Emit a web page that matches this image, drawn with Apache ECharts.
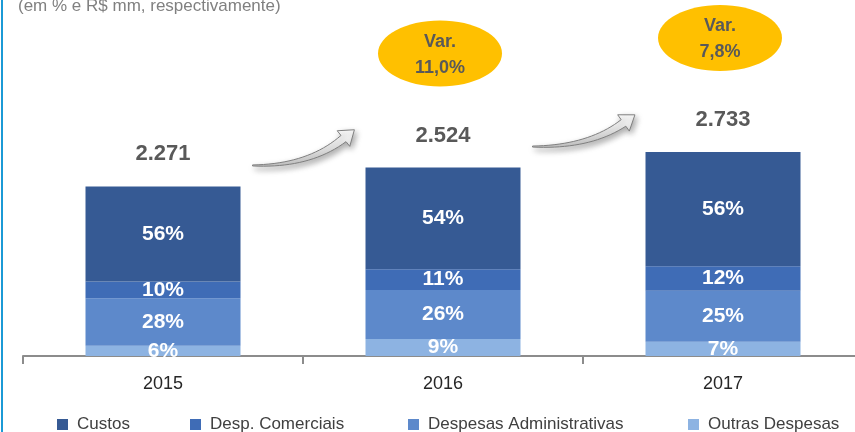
<!DOCTYPE html>
<html>
<head>
<meta charset="utf-8">
<script src="https://cdn.jsdelivr.net/npm/echarts@6/dist/echarts.min.js"></script>
<style>
  html, body { margin: 0; padding: 0; background: #fff; overflow: hidden; }
  /* o eixo do original passa da borda direita */
  #chart { width: 863px; height: 432px; }
</style>
</head>
<body>
<div id="chart"></div>
<script>
// dados
var anos = ["2015", "2016", "2017"];
var totais = [2271, 2524, 2733];
var totaisTxt = ["2.271", "2.524", "2.733"];
var custos = [56, 54, 56];
var despComerciais = [10, 11, 12];
var despAdmin = [28, 26, 25];
var outras = [6, 9, 7];
var variacao = ["", "11,0%", "7,8%"];

var fonte = "'Liberation Sans', Arial, sans-serif";
var nomes = ["Custos", "Desp. Comerciais", "Despesas Administrativas", "Outras Despesas"];
var cores = ["#365A94", "#3F6CB6", "#5D89CB", "#8DB3E2"];

function valores(pct) {
  return pct.map(function (p, i) { return totais[i] * p / 100; });
}

var chart = echarts.init(document.getElementById("chart"));

var labelPct = {
  show: true,
  position: "inside",
  color: "#fff",
  fontWeight: "bold",
  fontSize: 21,
  fontFamily: fonte,
  formatter: function (p) { return p.data.pct + "%"; }
};

function serie(nome, pct, cor) {
  return {
    name: nome,
    type: "bar",
    stack: "total",
    barWidth: 155,
    itemStyle: { color: cor },
    label: labelPct,
    data: valores(pct).map(function (v, i) { return { value: v, pct: pct[i] }; })
  };
}

// uma legenda por item, para acertar as posições
var posLegenda = [52, 185, 403, 683];
var legendas = nomes.map(function (n, i) {
  return {
    left: posLegenda[i],
    top: 411,
    itemWidth: 11,
    itemHeight: 11,
    icon: "rect",
    data: [n],
    textStyle: { color: "#404040", fontSize: 17, fontFamily: fonte, padding: [0, 0, 0, 4] }
  };
});

var option = {
  animation: false,
  color: cores,
  grid: { left: 23, right: 0, top: 132, height: 224 },
  legend: legendas,
  xAxis: {
    type: "category",
    data: anos,
    axisLine: { lineStyle: { color: "#8c8c8c", width: 2 } },
    axisTick: { show: true, length: 8, lineStyle: { color: "#8c8c8c", width: 2 } },
    axisLabel: { color: "#262626", fontSize: 18, fontFamily: fonte, margin: 19 }
  },
  yAxis: { type: "value", min: 0, max: 3000, show: false, splitLine: { show: false } },
  series: [
    serie(nomes[3], outras, cores[3]),
    serie(nomes[2], despAdmin, cores[2]),
    serie(nomes[1], despComerciais, cores[1]),
    serie(nomes[0], custos, cores[0]),
    {
      name: "total",
      type: "bar",
      stack: "total",
      barWidth: 155,
      itemStyle: { color: "transparent" },
      label: {
        show: true,
        position: "top",
        distance: 21,
        color: "#595959",
        fontWeight: "bold",
        fontSize: 22,
        fontFamily: fonte,
        formatter: function (p) { return totaisTxt[p.dataIndex]; }
      },
      data: [0, 0, 0]
    }
  ]
};
chart.setOption(option);

// seta curva (anotação) entre duas colunas, como polígono
function setaPontos(x0, y0, cx, cy, x1, y1) {
  var dx = x1 - cx, dy = y1 - cy, L = Math.sqrt(dx * dx + dy * dy);
  var ux = dx / L, uy = dy / L, nx = -uy, ny = ux;
  var hw = 10, hl = 14, n = 20;
  var baixo = [], cima = [];
  for (var k = 0; k <= n; k++) {
    var t = k / n, s = 1 - t;
    var px = s * s * x0 + 2 * s * t * cx + t * t * x1;
    var py = s * s * y0 + 2 * s * t * cy + t * t * y1;
    var tx = 2 * s * (cx - x0) + 2 * t * (x1 - cx);
    var ty = 2 * s * (cy - y0) + 2 * t * (y1 - cy);
    var tl = Math.sqrt(tx * tx + ty * ty);
    var mx = -ty / tl, my = tx / tl;
    var w = 0.5 + 3.5 * t;
    baixo.push([px + mx * w, py + my * w]);
    cima.push([px - mx * w, py - my * w]);
  }
  var pts = baixo.slice();
  pts.push([x1 + nx * hw, y1 + ny * hw]);
  pts.push([x1 + ux * hl, y1 + uy * hl]);
  pts.push([x1 - nx * hw, y1 - ny * hw]);
  return pts.concat(cima.reverse());
}

var graficos = [];
// borda azul à esquerda
graficos.push({ type: "line", shape: { x1: 2, y1: 0, x2: 2, y2: 432 }, style: { stroke: "#1B9AD6", lineWidth: 2 } });
// subtítulo cortado no topo
graficos.push({
  type: "text", x: 18, y: -2,
  style: { text: "(em % e R$ mm, respectivamente)", fill: "#808080", fontSize: 17, fontFamily: fonte }
});

var metade = 155 / 2;
for (var i = 1; i < anos.length; i++) {
  var a = chart.convertToPixel({ seriesIndex: 0 }, [i - 1, totais[i - 1]]);
  var b = chart.convertToPixel({ seriesIndex: 0 }, [i, totais[i]]);
  var x0 = a[0] + metade + 12, y0 = a[1] - 21;
  var x1 = b[0] - metade - 22, y1 = b[1] - 29;
  var cx = x0 + (x1 - x0) * 0.62, cy = y0 + 1;
  graficos.push({
    type: "polygon",
    shape: { points: setaPontos(x0, y0, cx, cy, x1, y1) },
    style: {
      fill: new echarts.graphic.LinearGradient(0, 0, 0, 1, [
        { offset: 0, color: "#ffffff" }, { offset: 1, color: "#c9c9c9" }
      ]),
      stroke: "#7f7f7f", lineWidth: 1,
      shadowBlur: 6, shadowColor: "rgba(0,0,0,0.35)", shadowOffsetX: 2, shadowOffsetY: 3
    }
  });
  // elipse com a variação
  graficos.push({
    type: "ellipse",
    shape: { cx: b[0] - 3, cy: b[1] - 114, rx: 62, ry: 33 },
    style: { fill: "#FFC000" }
  });
  graficos.push({
    type: "text",
    x: b[0] - 3, y: b[1] - 113,
    style: {
      text: "Var.\n" + variacao[i], fill: "#595959", fontSize: 18, fontWeight: "bold",
      fontFamily: fonte, align: "center", verticalAlign: "middle", lineHeight: 26
    }
  });
}
chart.setOption({ graphic: graficos });
</script>
</body>
</html>
